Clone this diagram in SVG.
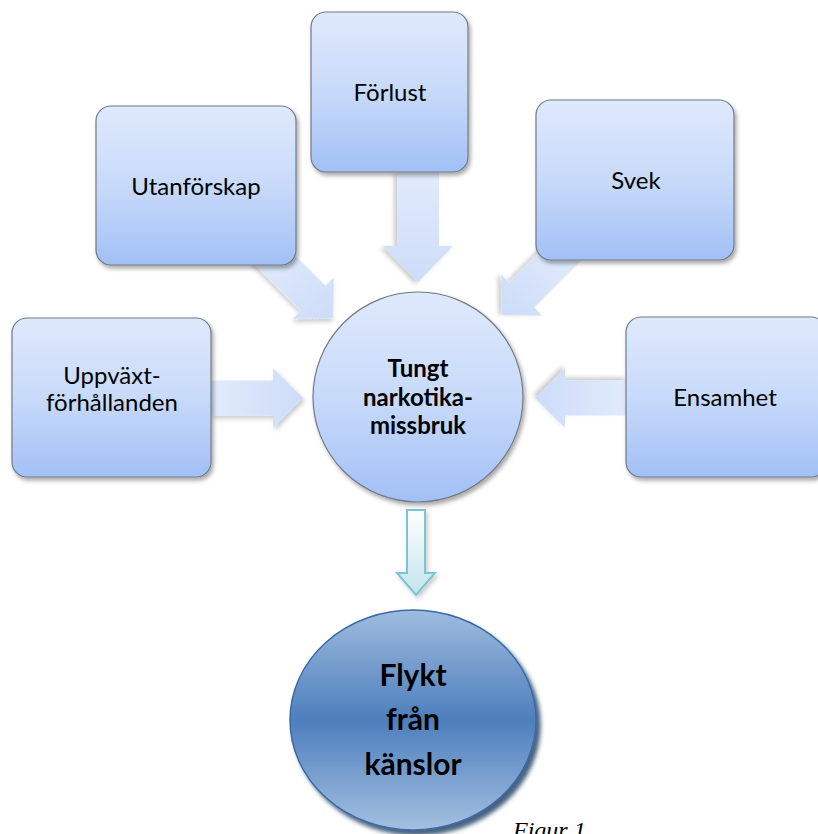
<svg xmlns="http://www.w3.org/2000/svg" width="818" height="834" viewBox="0 0 818 834">
<defs>
<linearGradient id="boxGrad" x1="0" y1="0" x2="0" y2="1">
<stop offset="0" stop-color="#dfe9fc"/>
<stop offset="0.5" stop-color="#c8dafa"/>
<stop offset="1" stop-color="#a2c0f6"/>
</linearGradient>
<linearGradient id="arrowGrad" x1="0" y1="0" x2="1" y2="0">
<stop offset="0" stop-color="#e2ebfc"/>
<stop offset="1" stop-color="#cddcf9"/>
</linearGradient>
<linearGradient id="downGrad" x1="0" y1="0" x2="0" y2="1">
<stop offset="0" stop-color="#ffffff"/>
<stop offset="1" stop-color="#c3e3ec"/>
</linearGradient>
<linearGradient id="ellGrad" x1="0" y1="0" x2="0" y2="1">
<stop offset="0" stop-color="#9ebbdf"/>
<stop offset="0.5" stop-color="#4d7fbc"/>
<stop offset="1" stop-color="#a3bfe1"/>
</linearGradient>
<filter id="shadow" x="-20%" y="-20%" width="140%" height="140%">
<feDropShadow dx="2" dy="3" stdDeviation="2" flood-color="#000" flood-opacity="0.35"/>
</filter>
<filter id="ashadow" x="-20%" y="-20%" width="140%" height="140%">
<feDropShadow dx="2" dy="3" stdDeviation="2" flood-color="#000" flood-opacity="0.2"/>
</filter>
<filter id="eshadow" x="-20%" y="-20%" width="140%" height="140%">
<feDropShadow dx="4" dy="5" stdDeviation="2" flood-color="#1f3a5f" flood-opacity="0.8"/>
</filter>
</defs>
<style>
.box{fill:url(#boxGrad);stroke:#727a86;stroke-width:1.2;filter:url(#shadow)}
.arr{fill:url(#arrowGrad);stroke:none;filter:url(#ashadow)}
.lbl{font-family:Lato,"Open Sans","Liberation Sans",sans-serif;font-size:24px;fill:#000;text-anchor:middle}
.bold{font-family:Lato,"Open Sans","Liberation Sans",sans-serif;font-weight:bold;fill:#000;text-anchor:middle}
</style>

<g id="connectors">
<path class="arr" transform="translate(303,398)" d="M0,0 L-30,-30 L-30,-17.5 L-92,-17.5 L-92,17.5 L-30,17.5 L-30,30 Z"/>
<path class="arr" transform="translate(535,398) rotate(180)" d="M0,0 L-30,-30 L-30,-17.5 L-92,-17.5 L-92,17.5 L-30,17.5 L-30,30 Z"/>
<path class="arr" transform="translate(418,282) rotate(90)" d="M0,0 L-36,-35 L-36,-21 L-110,-21 L-110,21 L-36,21 L-36,35 Z"/>
<path class="arr" transform="translate(333,318) rotate(45)" d="M0,0 L-28,-29 L-28,-17.5 L-100,-17.5 L-100,17.5 L-28,17.5 L-28,29 Z"/>
<path class="arr" transform="translate(502,315) rotate(135)" d="M0,0 L-28,-29 L-28,-17.5 L-100,-17.5 L-100,17.5 L-28,17.5 L-28,29 Z"/>
<path d="M407,510 L425,510 L425,573 L435,573 L416,595 L397,573 L407,573 Z" fill="url(#downGrad)" stroke="#7cc3d3" stroke-width="2" filter="url(#ashadow)"/>
</g>

<g id="forlust">
<rect class="box" x="311" y="12" width="157" height="160" rx="15"/>
<text class="lbl" x="390" y="101">Förlust</text>
</g>
<g id="utanforskap">
<rect class="box" x="96" y="106" width="200" height="159" rx="15"/>
<text class="lbl" x="196" y="195">Utanförskap</text>
</g>
<g id="svek">
<rect class="box" x="536" y="100" width="198" height="160" rx="15"/>
<text class="lbl" x="636" y="189">Svek</text>
</g>
<g id="uppvaxt">
<rect class="box" x="12" y="318" width="199" height="159" rx="15"/>
<text class="lbl" x="112" y="384">Uppväxt-</text>
<text class="lbl" x="112" y="411">förhållanden</text>
</g>
<g id="ensamhet">
<rect class="box" x="626" y="317" width="200" height="160" rx="15"/>
<text class="lbl" x="725" y="406">Ensamhet</text>
</g>
<g id="center">
<circle cx="418" cy="397" r="105" fill="url(#boxGrad)" stroke="#727a86" stroke-width="1.2" filter="url(#shadow)"/>
<text class="bold" font-size="24" x="418" y="377">Tungt</text>
<text class="bold" font-size="24" x="418" y="406">narkotika-</text>
<text class="bold" font-size="24" x="418" y="434">missbruk</text>
</g>
<g id="flykt">
<ellipse cx="413" cy="720" rx="123" ry="110" fill="url(#ellGrad)" stroke="#3b6aa6" stroke-width="1.5" filter="url(#eshadow)"/>
<text class="bold" font-size="30" x="413" y="686">Flykt</text>
<text class="bold" font-size="30" x="413" y="730">från</text>
<text class="bold" font-size="30" x="413" y="775">känslor</text>
</g>
<text x="513" y="838" font-family="'Liberation Serif',serif" font-style="italic" font-size="24" fill="#000">Figur 1</text>
</svg>
